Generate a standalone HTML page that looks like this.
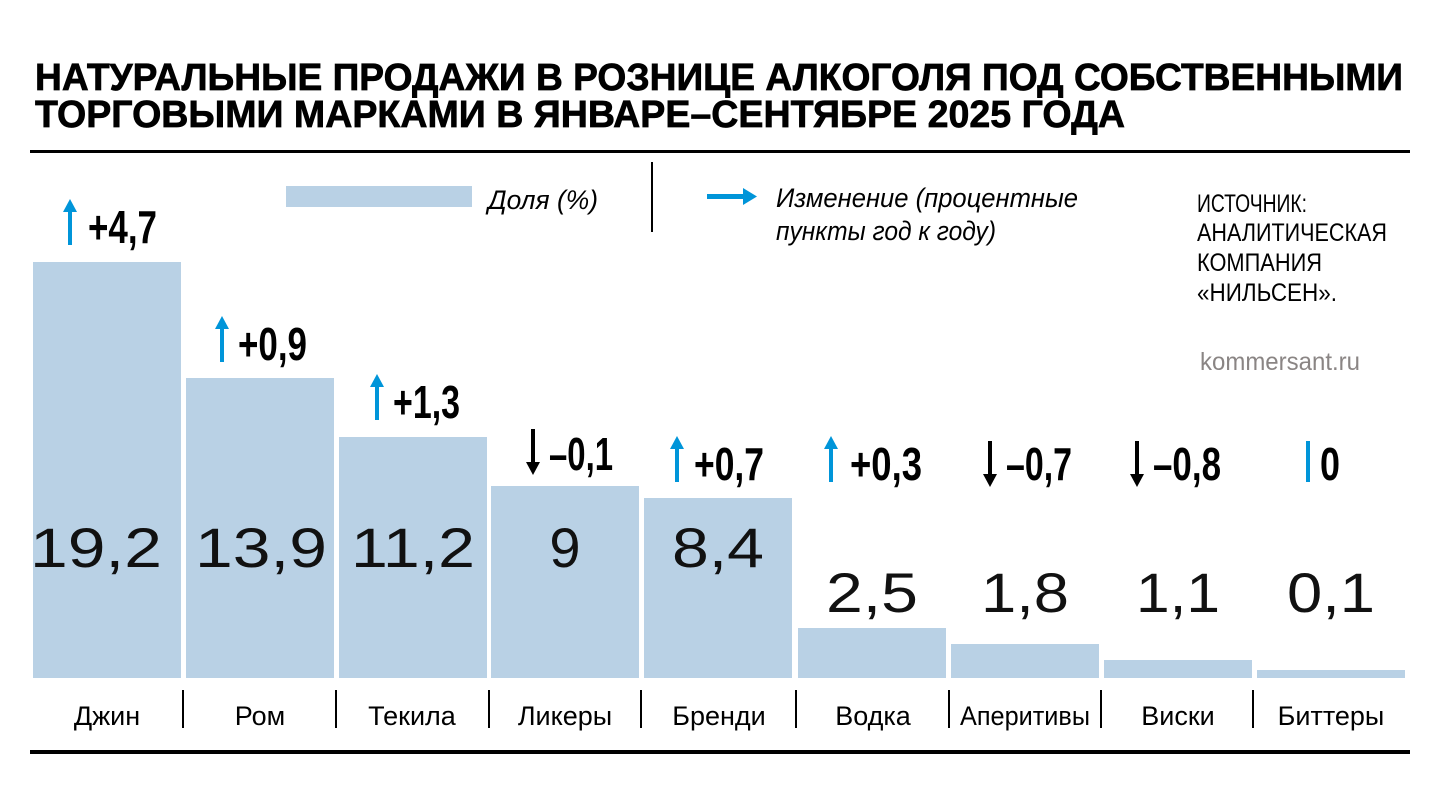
<!DOCTYPE html>
<html><head><meta charset="utf-8"><style>
html,body{margin:0;padding:0;background:#fff;}
svg{display:block}
.n{font-family:"Liberation Sans Narrow","Liberation Sans",sans-serif;}
</style></head><body>
<svg width="1440" height="785" viewBox="0 0 1440 785" xmlns="http://www.w3.org/2000/svg">
<g font-family="Liberation Sans, sans-serif" font-weight="bold" font-size="38" fill="#000" stroke="#000" stroke-width="0.7">
<text x="35" y="90" textLength="1368" lengthAdjust="spacingAndGlyphs">НАТУРАЛЬНЫЕ ПРОДАЖИ В РОЗНИЦЕ АЛКОГОЛЯ ПОД СОБСТВЕННЫМИ</text>
<text x="35" y="127" textLength="1090" lengthAdjust="spacingAndGlyphs">ТОРГОВЫМИ МАРКАМИ В ЯНВАРЕ–СЕНТЯБРЕ 2025 ГОДА</text>
</g>
<rect x="30" y="150" width="1380" height="3" fill="#000"/>
<rect x="30" y="750" width="1380" height="4" fill="#000"/>
<!-- legend -->
<rect x="286" y="186" width="186" height="21" fill="#b9d1e5"/>
<text class="n" x="488" y="209" font-size="27" font-style="italic" textLength="110" lengthAdjust="spacingAndGlyphs">Доля (%)</text>
<rect x="651" y="162" width="2" height="70" fill="#000"/>
<rect x="707" y="194" width="40" height="5" fill="#0095d9"/>
<path d="M743 188 L757 196.5 L743 205 Z" fill="#0095d9"/>
<g class="n" font-size="27" font-style="italic">
<text x="776" y="207" textLength="302" lengthAdjust="spacingAndGlyphs">Изменение (процентные</text>
<text x="776" y="240" textLength="220" lengthAdjust="spacingAndGlyphs">пункты год к году)</text>
</g>
<g class="n" font-size="25">
<text x="1197" y="212" textLength="110" lengthAdjust="spacingAndGlyphs">ИСТОЧНИК:</text>
<text x="1197" y="241" textLength="190" lengthAdjust="spacingAndGlyphs">АНАЛИТИЧЕСКАЯ</text>
<text x="1197" y="271" textLength="125" lengthAdjust="spacingAndGlyphs">КОМПАНИЯ</text>
<text x="1197" y="301" textLength="140" lengthAdjust="spacingAndGlyphs">«НИЛЬСЕН».</text>
<text x="1200" y="370" fill="#8a8584" textLength="160" lengthAdjust="spacingAndGlyphs">kommersant.ru</text>
</g>
<!-- bars -->
<g fill="#b9d1e5">
<rect x="33" y="262" width="148" height="416"/>
<rect x="186" y="378" width="148" height="300"/>
<rect x="339" y="437" width="148" height="241"/>
<rect x="491" y="486" width="148" height="192"/>
<rect x="644" y="498" width="148" height="180"/>
<rect x="798" y="628" width="148" height="50"/>
<rect x="951" y="644" width="148" height="34"/>
<rect x="1104" y="660" width="148" height="18"/>
<rect x="1257" y="670" width="148" height="8"/>
</g>
<g font-family="Liberation Sans, sans-serif" font-size="56" text-anchor="middle" fill="#111">
<text x="96" y="567" textLength="132" lengthAdjust="spacingAndGlyphs">19,2</text>
<text x="261" y="567" textLength="132" lengthAdjust="spacingAndGlyphs">13,9</text>
<text x="413" y="567" textLength="124" lengthAdjust="spacingAndGlyphs">11,2</text>
<text x="565" y="567">9</text>
<text x="718" y="567" textLength="92" lengthAdjust="spacingAndGlyphs">8,4</text>
<text x="872" y="612" textLength="92" lengthAdjust="spacingAndGlyphs">2,5</text>
<text x="1025" y="612" textLength="88" lengthAdjust="spacingAndGlyphs">1,8</text>
<text x="1178" y="612" textLength="84" lengthAdjust="spacingAndGlyphs">1,1</text>
<text x="1331" y="612" textLength="88" lengthAdjust="spacingAndGlyphs">0,1</text>
</g>
<!-- change arrows -->
<g stroke-width="4" fill="none">
<g stroke="#0095d9">
<path d="M70 245 V208"/><path d="M222 362 V325"/><path d="M377 420 V383"/>
<path d="M677 482 V445"/><path d="M831 482 V445"/><path d="M1308 482 V441"/>
</g>
<g stroke="#000">
<path d="M533 429 V466"/><path d="M990 441 V478"/><path d="M1137 441 V478"/>
</g>
</g>
<g fill="#0095d9">
<path d="M63 212 L70 199 L77 212 Z"/>
<path d="M215 329 L222 316 L229 329 Z"/>
<path d="M370 387 L377 374 L384 387 Z"/>
<path d="M670 449 L677 436 L684 449 Z"/>
<path d="M824 449 L831 436 L838 449 Z"/>
</g>
<g fill="#000">
<path d="M526 462 L533 475 L540 462 Z"/>
<path d="M983 474 L990 487 L997 474 Z"/>
<path d="M1130 474 L1137 487 L1144 474 Z"/>
</g>
<g class="n" font-weight="bold" font-size="46" fill="#000">
<text x="88" y="243" textLength="69" lengthAdjust="spacingAndGlyphs">+4,7</text>
<text x="238" y="360" textLength="69" lengthAdjust="spacingAndGlyphs">+0,9</text>
<text x="393" y="418" textLength="67" lengthAdjust="spacingAndGlyphs">+1,3</text>
<text x="549" y="470" textLength="64" lengthAdjust="spacingAndGlyphs">–0,1</text>
<text x="694" y="480" textLength="70" lengthAdjust="spacingAndGlyphs">+0,7</text>
<text x="850" y="480" textLength="72" lengthAdjust="spacingAndGlyphs">+0,3</text>
<text x="1006" y="480" textLength="66" lengthAdjust="spacingAndGlyphs">–0,7</text>
<text x="1153" y="480" textLength="68" lengthAdjust="spacingAndGlyphs">–0,8</text>
<text x="1320" y="480" textLength="20" lengthAdjust="spacingAndGlyphs">0</text>
</g>
<!-- separators -->
<g fill="#000">
<rect x="182" y="690" width="2" height="38"/>
<rect x="335" y="690" width="2" height="38"/>
<rect x="488" y="690" width="2" height="38"/>
<rect x="640" y="690" width="2" height="38"/>
<rect x="795" y="690" width="2" height="38"/>
<rect x="948" y="690" width="2" height="38"/>
<rect x="1100" y="690" width="2" height="38"/>
<rect x="1252" y="690" width="2" height="38"/>
</g>
<g class="n" font-size="27" text-anchor="middle" fill="#000">
<text x="107" y="725">Джин</text>
<text x="260" y="725">Ром</text>
<text x="412" y="725">Текила</text>
<text x="565" y="725">Ликеры</text>
<text x="719" y="725">Бренди</text>
<text x="873" y="725">Водка</text>
<text x="1025" y="725" textLength="130" lengthAdjust="spacingAndGlyphs">Аперитивы</text>
<text x="1178" y="725">Виски</text>
<text x="1331" y="725">Биттеры</text>
</g>
</svg>
</body></html>
